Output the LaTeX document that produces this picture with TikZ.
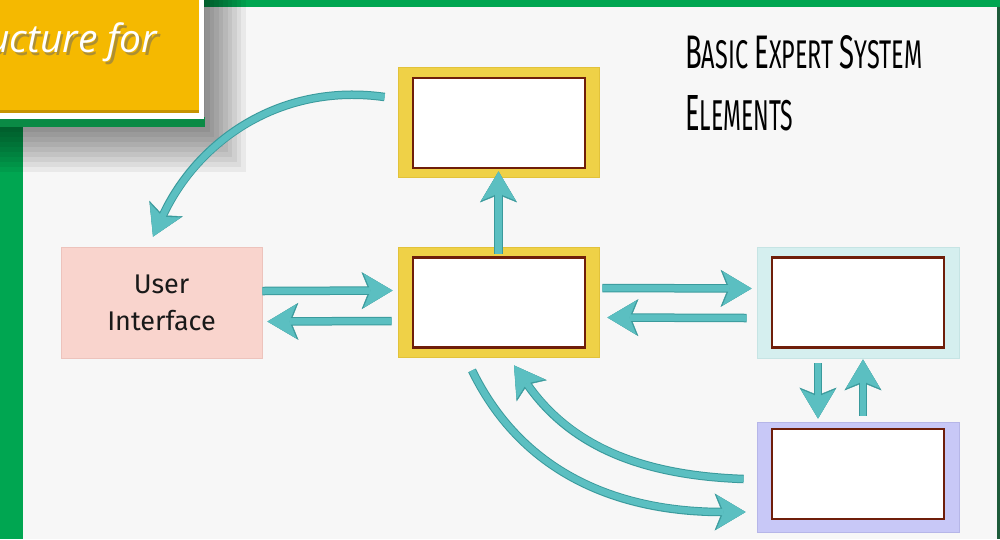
\documentclass[tikz,border=0pt]{standalone}
\usepackage{fontspec}
\setmainfont{Fira Sans}
\newfontfamily\bannerfont{Open Sans}
\newfontfamily\headfont{Fira Sans}
\usetikzlibrary{arrows.meta,calc}

\definecolor{slidegreen}{HTML}{00A651}
\definecolor{edgegreen}{HTML}{1D5B3A}
\definecolor{linegreen}{HTML}{0A8A45}
\definecolor{panel}{HTML}{F7F7F7}
\definecolor{banner}{HTML}{F5B900}
\definecolor{bannerdark}{HTML}{C89400}
\definecolor{goldframe}{HTML}{EFD147}
\definecolor{goldedge}{HTML}{E2C23A}
\definecolor{boxbrown}{HTML}{6F1E0A}
\definecolor{rosefill}{HTML}{F9D4CD}
\definecolor{roseedge}{HTML}{EDC3BC}
\definecolor{icefill}{HTML}{D5EFEF}
\definecolor{iceedge}{HTML}{C6E4E4}
\definecolor{lilacfill}{HTML}{C8C8F7}
\definecolor{lilacedge}{HTML}{B6B6E8}
\definecolor{flowfill}{HTML}{5BBFC1}
\definecolor{flowedge}{HTML}{3A9A9C}

\tikzset{
  frame/.style={minimum width=201pt, minimum height=110pt, inner sep=0pt, line width=0.8pt},
  slot/.style={minimum width=172pt, minimum height=90pt, inner sep=0pt,
    fill=white, draw=boxbrown, line width=2.6pt},
  flow/.style={draw=flowfill, line width=6.5pt,
    -{Stealth[length=29pt,width=34pt,inset=7pt,line width=0.4pt]},
    preaction={draw=flowedge, line width=8.5pt,
      -{Stealth[length=31pt,width=37pt,inset=7.5pt,line width=0.4pt]}}},
}

\begin{document}
\begin{tikzpicture}[x=1pt,y=1pt]
\useasboundingbox (0,0) rectangle (1000,-539);

% slide background
\fill[slidegreen] (0,0) rectangle (1000,-539);
\fill[edgegreen] (996,0) rectangle (1000,-539);
\fill[slidegreen] (0,0) rectangle (1000,-7);
\fill[panel] (23,-7) rectangle (997,-539);

% soft shadow under the banner
\foreach \i in {0,...,9}
  \fill[black,opacity=0.055] (0,0) rectangle ({205+4.5*\i},{-127-5*\i});

% banner
\fill[linegreen] (0,-117) rectangle (205,-127);
\fill[white] (0,0) rectangle (204,-119);
\fill[banner] (0,0) rectangle (199,-113);
\fill[bannerdark] (0,-110) rectangle (199,-113);
\node[anchor=base east, inner sep=0pt, text=black!60, opacity=0.5,
      font=\bannerfont\itshape\fontsize{39}{42}\selectfont] at (160,-55) {ucture for};
\node[anchor=base east, inner sep=0pt, text=white,
      font=\bannerfont\itshape\fontsize{39}{42}\selectfont] (bannertext) at (157.5,-52.5) {ucture for};

% heading
\node[anchor=base west, inner sep=0pt] (head1) at (685,-68)
  {\resizebox{237pt}{33pt}{\headfont\fontsize{40}{40}\selectfont B\fontsize{34}{34}\selectfont ASIC
   \fontsize{40}{40}\selectfont E\fontsize{34}{34}\selectfont XPERT
   \fontsize{40}{40}\selectfont S\fontsize{34}{34}\selectfont YSTEM}};
\node[anchor=base west, inner sep=0pt] (head2) at (685,-130)
  {\resizebox{108pt}{35pt}{\headfont\fontsize{40}{40}\selectfont E\fontsize{34}{34}\selectfont LEMENTS}};

% element boxes
\node[frame, fill=goldframe, draw=goldedge] (top) at (498.5,-122) {};
\node[slot] (topin) at (499,-123) {};
\node[frame, fill=goldframe, draw=goldedge] (mid) at (498.5,-302) {};
\node[slot] (midin) at (499,-302.5) {};
\node[frame, minimum height=111pt, fill=rosefill, draw=roseedge, align=center,
      font=\fontsize{27}{37}\selectfont, text=black!90] (ui) at (161.5,-302.5) {User\\Interface};
\node[frame, minimum width=202pt, minimum height=111pt, fill=icefill, draw=iceedge] (kb) at (858,-302.5) {};
\node[slot] (kbin) at (858,-302.5) {};
\node[frame, minimum width=202pt, fill=lilacfill, draw=lilacedge] (wm) at (858,-477) {};
\node[slot] (wmin) at (858,-474) {};

% connectors
\draw[flow] ([yshift=25pt,xshift=-13pt]top.west) to[out=172, in=65]
  ([xshift=-8.5pt,yshift=10pt]ui.north);
\draw[flow] ([yshift=11.5pt]ui.east) -- ([yshift=11.5pt,xshift=-5pt]mid.west);
\draw[flow] ([yshift=-19pt,xshift=-6pt]mid.west) -- ([yshift=-19pt,xshift=5pt]ui.east);
\draw[flow] ([yshift=-7pt]mid.north) -- ([yshift=6pt]top.south);
\draw[flow] ([yshift=14pt,xshift=3pt]mid.east) -- ([yshift=14pt,xshift=-5pt]kb.west);
\draw[flow] ([yshift=-15.5pt,xshift=-10pt]kb.west) -- ([yshift=-15.5pt,xshift=8pt]mid.east);
\draw[flow] ([xshift=-40pt,yshift=-5pt]kb.south) -- ([xshift=-40pt,yshift=3pt]wm.north);
\draw[flow] ([xshift=5pt,yshift=6pt]wm.north) -- ([xshift=5pt,yshift=-1pt]kb.south);
\draw[flow] ([xshift=-26.5pt,yshift=-13pt]mid.south) to[out=-64, in=180]
  ([xshift=-11pt,yshift=-35pt]wm.west);
\draw[flow] ([xshift=-13pt,yshift=-2pt]wm.west) to[out=178, in=-55]
  ([xshift=15.5pt,yshift=-8pt]mid.south);
\end{tikzpicture}
\end{document}
